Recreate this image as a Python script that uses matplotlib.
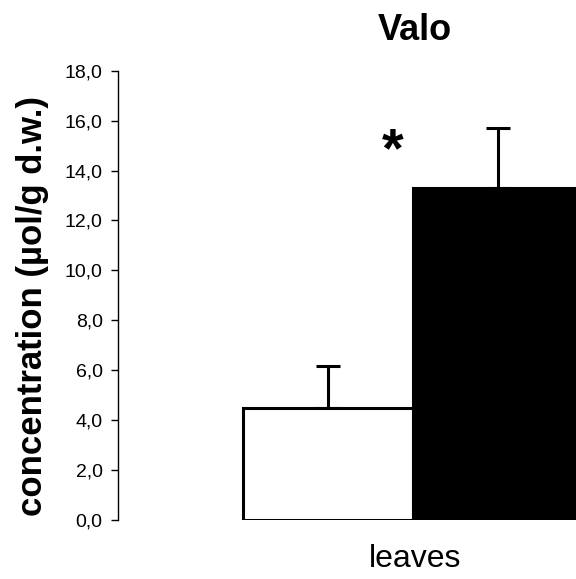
import matplotlib
matplotlib.use("Agg")
from matplotlib import pyplot as plt
from matplotlib.ticker import FuncFormatter, MultipleLocator

plt.rcParams['font.family'] = ['Liberation Sans', 'DejaVu Sans']

# values
category = 'leaves'
means = [4.47, 13.31]
errors = [1.70, 2.41]
colors = ['white', 'black']
offsets = [-0.2, 0.2]
star_x, star_y = -0.048, 14.75

fig = plt.figure(figsize=(5.76, 5.79), dpi=100)
# axes extends past the right edge like in the original (cropped) figure
ax = fig.add_axes([118 / 576, 59 / 579, 594 / 576, 449.3 / 579])

for off, m, e, c in zip(offsets, means, errors, colors):
    ax.bar(off, m, width=0.4, color=c, edgecolor='black', linewidth=2.2, zorder=2)
    ax.errorbar(off, m, yerr=[[0], [e]], fmt='none', ecolor='black',
                elinewidth=2.2, capsize=8.6, capthick=2.2, zorder=1)

ax.text(star_x, star_y, '*', fontsize=40, fontweight='bold', ha='center', va='center')

ax.set_xlim(-0.695, 0.705)
ax.set_ylim(0, 18)
ax.yaxis.set_major_locator(MultipleLocator(2))
ax.yaxis.set_major_formatter(FuncFormatter(lambda v, p: f'{v:.1f}'.replace('.', ',')))
ax.tick_params(axis='y', direction='out', length=5, width=1, labelsize=14, pad=6)
ax.set_xticks([])

ax.spines['top'].set_visible(False)
ax.spines['right'].set_visible(False)
ax.spines['bottom'].set_visible(False)
ax.spines['left'].set_linewidth(1)

ax.set_title('Valo', fontsize=26, fontweight='bold', pad=22)
ax.set_xlabel(category, fontsize=23, labelpad=17)
ax.set_ylabel('concentration (µol/g d.w.)', fontsize=25, fontweight='bold')
ax.yaxis.set_label_coords(-0.116, 0.476)

plt.savefig('out.png', dpi=100)
plt.close()
